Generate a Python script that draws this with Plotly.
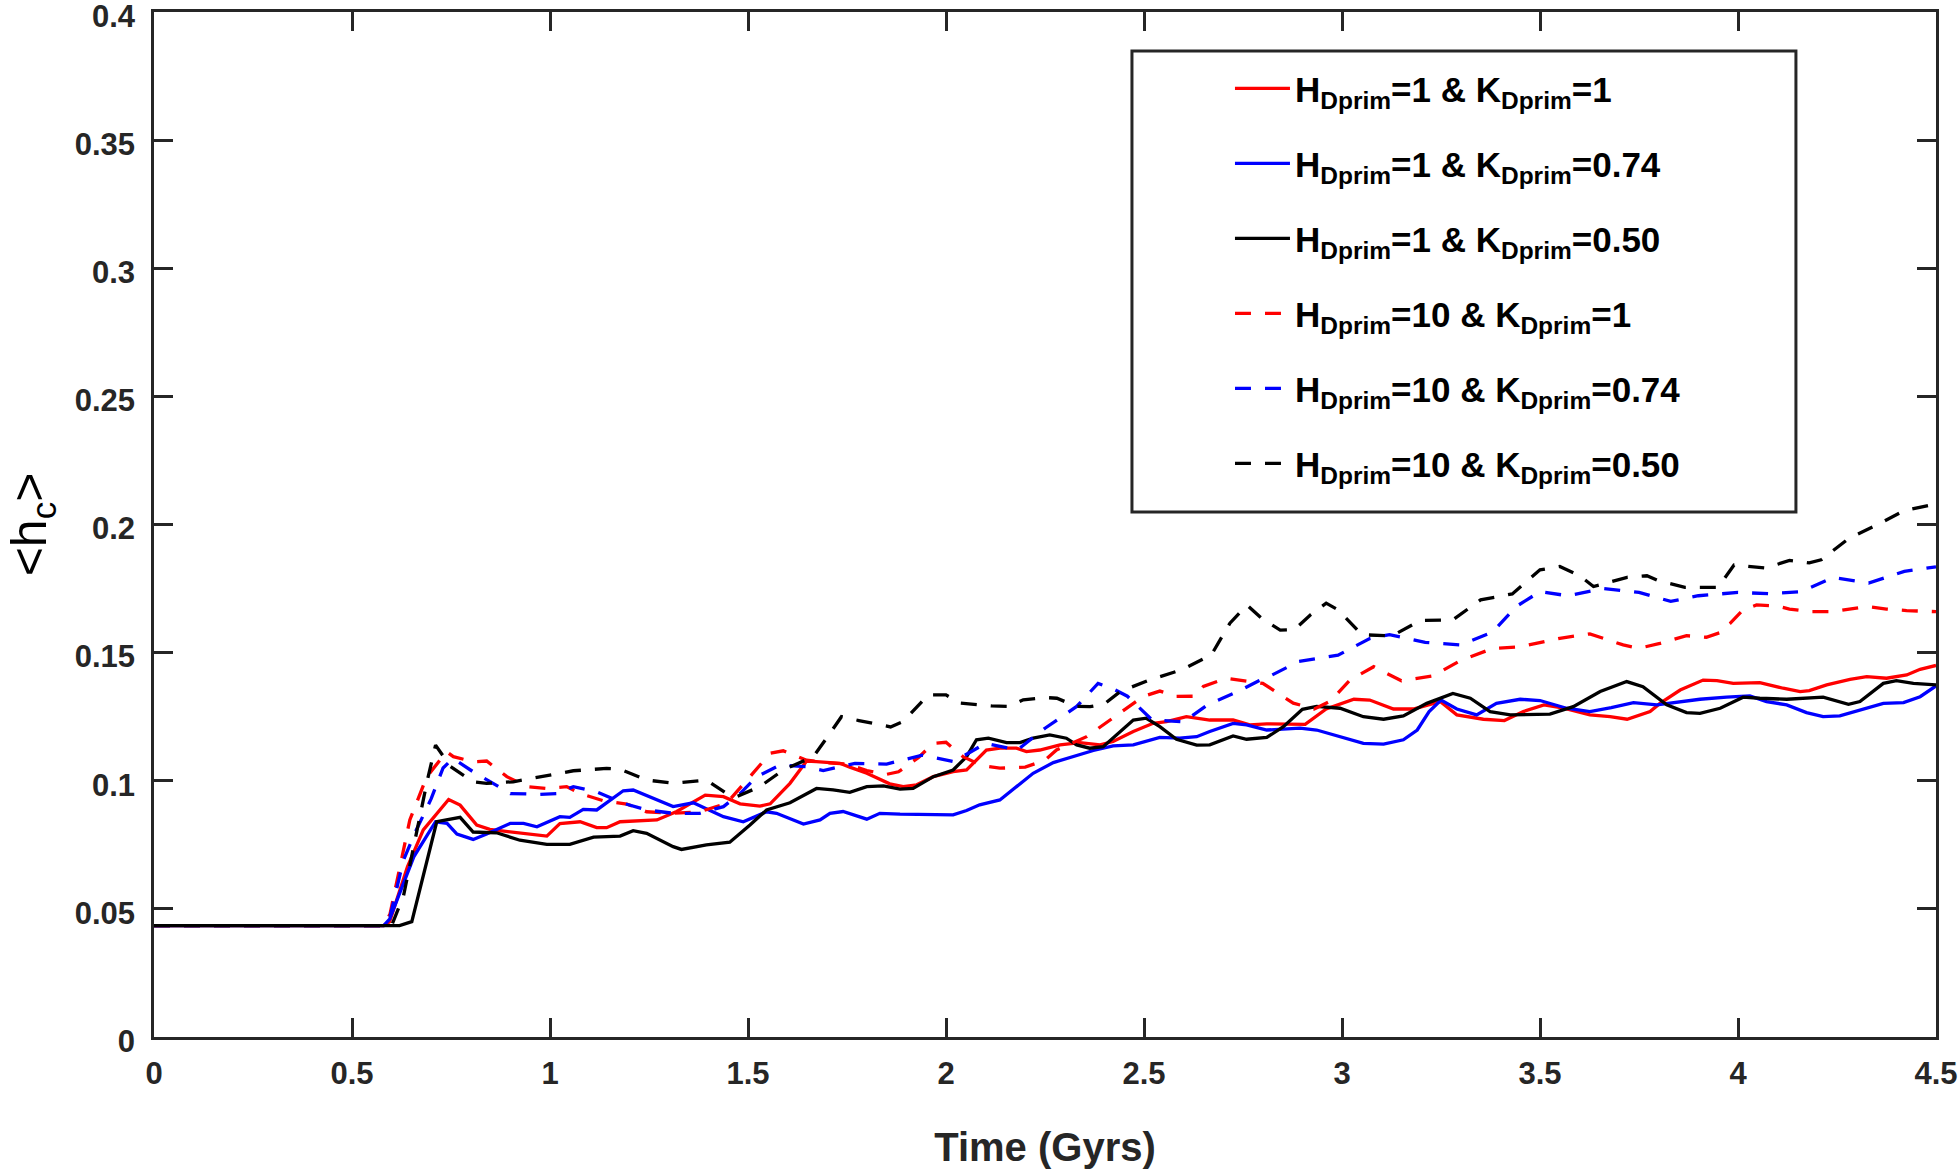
import plotly.graph_objects as go

# ---------------- data ----------------
t_h1_k1 = [0, 0.58, 0.595, 0.64, 0.68, 0.744, 0.773, 0.815, 0.848, 0.907, 0.992, 1.025, 1.076, 1.118,
           1.143, 1.177, 1.27, 1.32, 1.392, 1.438, 1.48, 1.53, 1.556, 1.606, 1.648, 1.673, 1.732, 1.757,
           1.8, 1.858, 1.892, 1.926, 1.968, 2.018, 2.052, 2.102, 2.136, 2.178, 2.203, 2.237, 2.288,
           2.338, 2.389, 2.422, 2.473, 2.523, 2.557, 2.607, 2.666, 2.725, 2.767, 2.81, 2.85, 2.907,
           2.96, 3.03, 3.07, 3.13, 3.18, 3.248, 3.29, 3.357, 3.41, 3.458, 3.51, 3.56, 3.626, 3.677,
           3.72, 3.778, 3.803, 3.854, 3.912, 3.947, 3.988, 4.055, 4.114, 4.157, 4.18, 4.224, 4.283,
           4.325, 4.375, 4.426, 4.46, 4.5]
hc_h1_k1 = [0.0435, 0.0435, 0.045, 0.0664, 0.0808, 0.0927, 0.0905, 0.0827, 0.081, 0.080, 0.0784, 0.0833,
            0.084, 0.0817, 0.0817, 0.084, 0.0847, 0.088, 0.0944, 0.0938, 0.091, 0.0901, 0.091, 0.099,
            0.1077, 0.1075, 0.1068, 0.1053, 0.1029, 0.0988, 0.0977, 0.0984, 0.1016, 0.1036, 0.1042,
            0.112, 0.1127, 0.1127, 0.1114, 0.112, 0.114, 0.1149, 0.114, 0.1153, 0.1192, 0.1224,
            0.1231, 0.125, 0.1237, 0.1237, 0.1218, 0.1222, 0.122, 0.122, 0.128, 0.1318, 0.1315,
            0.128, 0.128, 0.1309, 0.1257, 0.124, 0.1235, 0.127, 0.1296, 0.1283, 0.1257, 0.125,
            0.124, 0.127, 0.1302, 0.1354, 0.1393, 0.1391, 0.138, 0.1383, 0.1361, 0.1348, 0.1352,
            0.1374, 0.1396, 0.1406, 0.14, 0.1413, 0.1435, 0.145]

t_h1_k074 = [0, 0.58, 0.595, 0.656, 0.711, 0.74, 0.765, 0.806, 0.84, 0.9, 0.933, 0.967, 1.025, 1.05,
             1.084, 1.118, 1.185, 1.21, 1.311, 1.362, 1.438, 1.488, 1.547, 1.572, 1.64, 1.682, 1.707,
             1.74, 1.8, 1.833, 1.884, 1.968, 2.018, 2.052, 2.085, 2.136, 2.178, 2.22, 2.271, 2.321,
             2.372, 2.422, 2.473, 2.54, 2.59, 2.633, 2.666, 2.725, 2.759, 2.81, 2.894, 2.936, 2.995,
             3.054, 3.105, 3.155, 3.19, 3.22, 3.25, 3.29, 3.34, 3.39, 3.45, 3.5, 3.567, 3.626, 3.68,
             3.736, 3.795, 3.853, 3.904, 3.971, 4.03, 4.072, 4.123, 4.173, 4.215, 4.257, 4.308,
             4.367, 4.418, 4.46, 4.5]
hc_h1_k074 = [0.0435, 0.0435, 0.046, 0.0703, 0.084, 0.0834, 0.0792, 0.0771, 0.0792, 0.0834, 0.0834,
              0.082, 0.086, 0.0857, 0.0888, 0.0886, 0.0961, 0.0964, 0.0899, 0.0914, 0.086, 0.084,
              0.0879, 0.0873, 0.0831, 0.0847, 0.0873, 0.088, 0.085, 0.0873, 0.087, 0.0867, 0.0867,
              0.0884, 0.0906, 0.0925, 0.0977, 0.1029, 0.1071, 0.1094, 0.1118, 0.1136, 0.114, 0.1169,
              0.1166, 0.1172, 0.1192, 0.1224, 0.1218, 0.1198, 0.1205, 0.1198, 0.1172, 0.1146, 0.1143,
              0.116, 0.1198, 0.127, 0.1315, 0.128, 0.1257, 0.1302, 0.1318, 0.1313, 0.1283, 0.127,
              0.1285, 0.1305, 0.1296, 0.1309, 0.1318, 0.1326, 0.1331, 0.1309, 0.1296, 0.1266, 0.125,
              0.1253, 0.1276, 0.1302, 0.1305, 0.1328, 0.137]

t_h1_k050 = [0, 0.62, 0.651, 0.714, 0.773, 0.806, 0.865, 0.924, 0.992, 1.05, 1.11, 1.177, 1.21, 1.244,
             1.311, 1.332, 1.395, 1.454, 1.505, 1.547, 1.606, 1.631, 1.673, 1.715, 1.757, 1.8, 1.842,
             1.884, 1.917, 1.968, 2.018, 2.052, 2.077, 2.107, 2.153, 2.187, 2.22, 2.262, 2.304, 2.33,
             2.363, 2.397, 2.439, 2.473, 2.506, 2.54, 2.582, 2.633, 2.666, 2.725, 2.759, 2.81, 2.852,
             2.9, 2.936, 2.995, 3.054, 3.105, 3.155, 3.214, 3.28, 3.324, 3.374, 3.425, 3.525, 3.584,
             3.652, 3.719, 3.76, 3.82, 3.87, 3.904, 3.955, 4.013, 4.055, 4.123, 4.215, 4.279, 4.308,
             4.367, 4.4, 4.443, 4.5]
hc_h1_k050 = [0.0435, 0.0435, 0.045, 0.084, 0.0857, 0.080, 0.0797, 0.0768, 0.0752, 0.0752, 0.078,
              0.0784, 0.0805, 0.0795, 0.0743, 0.0732, 0.075, 0.076, 0.0827, 0.0886, 0.0914, 0.0936,
              0.097, 0.0964, 0.0955, 0.0977, 0.098, 0.0967, 0.097, 0.1016, 0.1042, 0.1094, 0.116,
              0.1166, 0.1149, 0.1149, 0.1166, 0.1179, 0.1166, 0.114, 0.1127, 0.1133, 0.1192, 0.1237,
              0.1244, 0.1211, 0.1162, 0.1139, 0.114, 0.1175, 0.1162, 0.1169, 0.1211, 0.1279, 0.129,
              0.1283, 0.125, 0.124, 0.1253, 0.1302, 0.1341, 0.1322, 0.127, 0.1257, 0.126, 0.1289,
              0.1348, 0.1387, 0.1367, 0.1296, 0.1266, 0.1263, 0.1283, 0.1326, 0.1322, 0.1318, 0.1326,
              0.1298, 0.1309, 0.138, 0.1391, 0.138, 0.1374]

t_h10_k1 = [0, 0.58, 0.596, 0.646, 0.689, 0.739, 0.756, 0.806, 0.84, 0.891, 0.941, 0.992, 1.042, 1.076,
            1.135, 1.194, 1.244, 1.311, 1.378, 1.446, 1.505, 1.556, 1.589, 1.648, 1.7, 1.75, 1.8, 1.85,
            1.88, 1.93, 1.968, 2.0, 2.043, 2.09, 2.136, 2.2, 2.25, 2.279, 2.355, 2.422, 2.498, 2.54,
            2.582, 2.63, 2.65, 2.708, 2.76, 2.8, 2.877, 2.93, 2.97, 3.02, 3.08, 3.15, 3.23, 3.3, 3.38,
            3.45, 3.55, 3.626, 3.71, 3.75, 3.803, 3.87, 3.92, 3.955, 3.98, 4.013, 4.047, 4.098, 4.13,
            4.18, 4.24, 4.29, 4.325, 4.375, 4.426, 4.5]
hc_h10_k1 = [0.0435, 0.0435, 0.048, 0.0847, 0.1016, 0.1113, 0.1094, 0.1074, 0.1077, 0.1016, 0.0977,
             0.097, 0.0977, 0.095, 0.0922, 0.0909, 0.0879, 0.0873, 0.0879, 0.0912, 0.1016, 0.1107,
             0.1117, 0.108, 0.107, 0.1065, 0.104, 0.1025, 0.1035, 0.109, 0.1146, 0.115, 0.1094, 0.106,
             0.1049, 0.1053, 0.108, 0.112, 0.1172, 0.1244, 0.1329, 0.135, 0.1329, 0.133, 0.1368, 0.14,
             0.139, 0.138, 0.1303, 0.128, 0.131, 0.1393, 0.1445, 0.139, 0.1409, 0.147, 0.1516, 0.1523,
             0.1556, 0.1573, 0.153, 0.1517, 0.1536, 0.1566, 0.156, 0.1578, 0.1614, 0.1667, 0.1686,
             0.1682, 0.167, 0.166, 0.166, 0.167, 0.168, 0.167, 0.1664, 0.166]

t_h10_k074 = [0, 0.58, 0.596, 0.63, 0.66, 0.7, 0.73, 0.755, 0.806, 0.84, 0.9, 0.975, 1.017, 1.059, 1.118,
              1.185, 1.244, 1.311, 1.378, 1.438, 1.48, 1.522, 1.581, 1.648, 1.69, 1.77, 1.85, 1.94,
              2.02, 2.1, 2.18, 2.25, 2.33, 2.384, 2.42, 2.458, 2.52, 2.6, 2.66, 2.74, 2.79, 2.82, 2.89,
              2.99, 3.07, 3.12, 3.21, 3.3, 3.38, 3.44, 3.5, 3.57, 3.66, 3.75, 3.83, 3.9, 4.0, 4.08,
              4.16, 4.24, 4.33, 4.42, 4.5]
hc_h10_k074 = [0.0435, 0.0435, 0.047, 0.069, 0.08, 0.093, 0.105, 0.1087, 0.1035, 0.1003, 0.095, 0.0947,
               0.095, 0.0977, 0.0957, 0.0912, 0.0886, 0.0873, 0.0873, 0.0899, 0.095, 0.1016, 0.1061,
               0.1055, 0.104, 0.1068, 0.1065, 0.11, 0.1075, 0.1146, 0.112, 0.1205, 0.129, 0.138, 0.136,
               0.133, 0.1238, 0.123, 0.1296, 0.135, 0.139, 0.141, 0.1465, 0.149, 0.1555, 0.157, 0.154,
               0.153, 0.158, 0.168, 0.1738, 0.1722, 0.175, 0.1735, 0.17, 0.1722, 0.1735, 0.173, 0.1738,
               0.1793, 0.1771, 0.1817, 0.1835]

t_h10_k050 = [0, 0.6, 0.63, 0.67, 0.69, 0.711, 0.749, 0.806, 0.84, 0.907, 0.975, 1.059, 1.143, 1.177,
              1.244, 1.311, 1.395, 1.446, 1.471, 1.53, 1.589, 1.665, 1.707, 1.736, 1.78, 1.81, 1.86,
              1.892, 1.955, 2.0, 2.035, 2.115, 2.16, 2.195, 2.25, 2.28, 2.33, 2.364, 2.4, 2.44, 2.51,
              2.595, 2.67, 2.717, 2.76, 2.8, 2.844, 2.88, 2.92, 2.96, 2.99, 3.05, 3.126, 3.197, 3.28,
              3.35, 3.43, 3.5, 3.55, 3.6, 3.635, 3.72, 3.77, 3.8, 3.866, 3.95, 3.99, 4.07, 4.13, 4.18,
              4.21, 4.28, 4.35, 4.42, 4.5]
hc_h10_k050 = [0.0435, 0.0435, 0.055, 0.0847, 0.1, 0.1139, 0.1055, 0.0996, 0.099, 0.0996, 0.1016,
               0.1039, 0.1048, 0.1045, 0.1003, 0.099, 0.1003, 0.095, 0.0938, 0.0977, 0.1042, 0.1094,
               0.1185, 0.125, 0.1235, 0.1225, 0.121, 0.1231, 0.1335, 0.1335, 0.1303, 0.1292, 0.129,
               0.1316, 0.1325, 0.1322, 0.129, 0.1289, 0.13, 0.1348, 0.1391, 0.1433, 0.1491, 0.1615,
               0.1686, 0.163, 0.1588, 0.159, 0.1647, 0.1693, 0.1667, 0.157, 0.1565, 0.1625, 0.1628,
               0.1706, 0.1729, 0.1823, 0.1836, 0.18, 0.1758, 0.1794, 0.18, 0.178, 0.1755, 0.1755,
               0.1842, 0.183, 0.186, 0.185, 0.1862, 0.1946, 0.1998, 0.2054, 0.208]

series_names = [
    "H<sub>Dprim</sub>=1 &amp; K<sub>Dprim</sub>=1",
    "H<sub>Dprim</sub>=1 &amp; K<sub>Dprim</sub>=0.74",
    "H<sub>Dprim</sub>=1 &amp; K<sub>Dprim</sub>=0.50",
    "H<sub>Dprim</sub>=10 &amp; K<sub>Dprim</sub>=1",
    "H<sub>Dprim</sub>=10 &amp; K<sub>Dprim</sub>=0.74",
    "H<sub>Dprim</sub>=10 &amp; K<sub>Dprim</sub>=0.50",
]
series_t = [t_h1_k1, t_h1_k074, t_h1_k050, t_h10_k1, t_h10_k074, t_h10_k050]
series_h = [hc_h1_k1, hc_h1_k074, hc_h1_k050, hc_h10_k1, hc_h10_k074, hc_h10_k050]
series_colors = ["#ff0000", "#0000ff", "#000000", "#ff0000", "#0000ff", "#000000"]
series_dash = ["solid", "solid", "solid", "16px,14px", "16px,14px", "16px,14px"]

x_tick_vals = [0, 0.5, 1, 1.5, 2, 2.5, 3, 3.5, 4, 4.5]
x_tick_text = ["0", "0.5", "1", "1.5", "2", "2.5", "3", "3.5", "4", "4.5"]
y_tick_vals = [0, 0.05, 0.1, 0.15, 0.2, 0.25, 0.3, 0.35, 0.4]
y_tick_text = ["0", "0.05", "0.1", "0.15", "0.2", "0.25", "0.3", "0.35", "0.4"]

# ---------------- figure ----------------
FONT = "Liberation Sans, Arial, Helvetica, sans-serif"
AXC = "#262626"

fig = go.Figure()
for name, t, h, c, d in zip(series_names, series_t, series_h, series_colors, series_dash):
    fig.add_trace(go.Scatter(x=t, y=h, mode="lines", name=name, legendgroup=name,
                             line=dict(color=c, width=3.3, dash=d)))

axis_common = dict(showline=True, linecolor=AXC, linewidth=2.5, mirror="ticks",
                   ticks="inside", ticklen=19, tickwidth=2.5, tickcolor=AXC,
                   showgrid=False, zeroline=False, automargin=False,
                   ticklabeloverflow="allow",
                   tickfont=dict(family=FONT, size=31, color=AXC, weight="bold"))

fig.update_xaxes(range=[0, 4.5], tickvals=x_tick_vals, ticktext=x_tick_text, ticklabelstandoff=7,
                 title=dict(text="Time (Gyrs)", standoff=44,
                            font=dict(family=FONT, size=40, color=AXC, weight="bold")),
                 **axis_common)
fig.update_yaxes(range=[0, 0.4], tickvals=y_tick_vals, ticktext=y_tick_text, ticklabelstandoff=10,
                 ticklabelshift=4,
                 title=dict(text="&lt;h<sub>c</sub>&gt;", standoff=13,
                            font=dict(family=FONT, size=50, color="#000000")),
                 **axis_common)

fig.update_layout(
    width=1960, height=1170,
    margin=dict(l=154, r=24, t=12, b=133),
    paper_bgcolor="white", plot_bgcolor="white",
    font=dict(family=FONT, color=AXC),
    showlegend=True,
    legend=dict(x=0.6038, y=0.954, xanchor="left", yanchor="top",
                bgcolor="rgba(0,0,0,0)", borderwidth=0, tracegroupgap=26.5, itemwidth=55,
                font=dict(family=FONT, size=35, color="#000000", weight="bold")),
    shapes=[dict(type="rect", xref="paper", yref="paper",
                 x0=0.5488, x1=0.9214, y0=0.5122, y1=0.962,
                 line=dict(color=AXC, width=3), fillcolor="white", layer="below")],
)

fig.write_html("out.html", config={"displayModeBar": False},
               post_script="document.body.style.margin='0px';")
